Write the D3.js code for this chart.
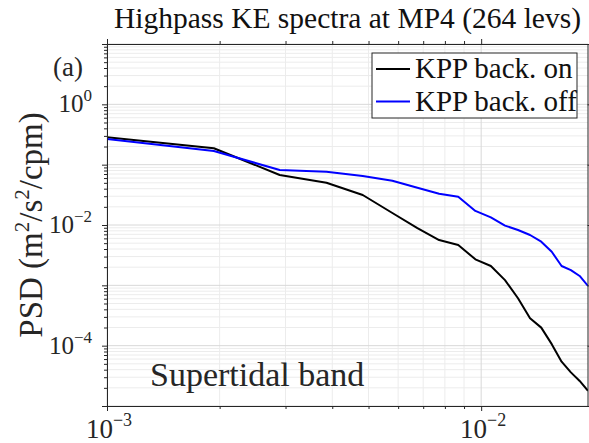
<!DOCTYPE html>
<html>
<head>
    <title>Highpass KE spectra</title>
    <script src="https://cdn.jsdelivr.net/npm/d3@7"></script>
</head>
<style>
body { margin: 0; background: white; }
text { font-family: "Liberation Serif", serif; fill: #262626; }
</style>
<body>
<script>

// frequency (cpm) and PSD values
var freq = [0.000965, 0.00193, 0.002895, 0.00386, 0.004825, 0.00579, 0.006755, 0.00772, 0.008685, 0.00965,
            0.010615, 0.01158, 0.012545, 0.01351, 0.014475, 0.01544, 0.016405, 0.01737, 0.018335, 0.0193];
var kppOn = [0.29, 0.187, 0.0675, 0.0502, 0.0314, 0.0158, 0.00885, 0.00564, 0.00466, 0.0027,
             0.00209, 0.00122, 0.00061, 0.000284, 0.000199, 0.000106, 0.0000542, 0.0000361, 0.000026, 0.0000179];
var kppOff = [0.274, 0.168, 0.0817, 0.0766, 0.0649, 0.0542, 0.0415, 0.033, 0.0294, 0.0171,
              0.0134, 0.00976, 0.00826, 0.00683, 0.00529, 0.0036, 0.00209, 0.00179, 0.00143, 0.000976];
var seriesNames = ["KPP back. on", "KPP back. off"];
var seriesColors = ["#000000", "#0000ff"];

var xMajor = [1e-3, 1e-2];
var xTickExp = ["\u22123", "\u22122"];
var yMajor = [1e-4, 1e-2, 1e0];
var yTickExp = ["\u22124", "\u22122", "0"];

var w = 589;
var h = 443;
// plot box (note: "top" is reserved on window, so use px* names)
var pxL = 107, pxR = 588, pxT = 44, pxB = 406;

var svg = d3.select("body").append("svg")
                .attr("width", w)
                .attr("height", h);

var x = d3.scaleLog().domain([1e-3, 0.0193]).range([pxL, pxR]);
var y = d3.scaleLog().domain([1e-5, 10]).range([pxB, pxT]);

// minor / major tick values
var xMinor = [], yMinor = [];
[1e-3, 1e-2].forEach(function(d) {
    for (var k = 2; k <= 9; k++) { if (d * k <= 0.0193) xMinor.push(d * k); }
});
[1e-5, 1e-4, 1e-3, 1e-2, 1e-1, 1e0].forEach(function(d) {
    for (var k = 2; k <= 9; k++) yMinor.push(d * k);
});
var yAllMajor = [1e-5, 1e-4, 1e-3, 1e-2, 1e-1, 1e0, 1e1];

// grid
var grid = svg.append("g");
grid.selectAll("line.xmin").data(xMinor).enter().append("line")
    .attr("x1", function(d) { return x(d); }).attr("x2", function(d) { return x(d); })
    .attr("y1", pxT).attr("y2", pxB)
    .attr("stroke", "#ececec").attr("stroke-width", 1);
grid.selectAll("line.ymin").data(yMinor).enter().append("line")
    .attr("y1", function(d) { return y(d); }).attr("y2", function(d) { return y(d); })
    .attr("x1", pxL).attr("x2", pxR)
    .attr("stroke", "#ececec").attr("stroke-width", 1);
grid.selectAll("line.xmaj").data(xMajor).enter().append("line")
    .attr("x1", function(d) { return x(d); }).attr("x2", function(d) { return x(d); })
    .attr("y1", pxT).attr("y2", pxB)
    .attr("stroke", "#d8d8d8").attr("stroke-width", 1);
grid.selectAll("line.ymaj").data(yAllMajor).enter().append("line")
    .attr("y1", function(d) { return y(d); }).attr("y2", function(d) { return y(d); })
    .attr("x1", pxL).attr("x2", pxR)
    .attr("stroke", "#d8d8d8").attr("stroke-width", 1);

// lines
svg.append("clipPath").attr("id", "clip").append("rect")
    .attr("x", pxL).attr("y", pxT).attr("width", pxR - pxL).attr("height", pxB - pxT);

var line = d3.line()
    .x(function(d) { return x(d[0]); })
    .y(function(d) { return y(d[1]); });

[kppOn, kppOff].forEach(function(vals, i) {
    svg.append("path")
        .datum(d3.zip(freq, vals))
        .attr("clip-path", "url(#clip)")
        .attr("fill", "none")
        .attr("stroke", seriesColors[i])
        .attr("stroke-width", 2)
        .attr("stroke-linejoin", "round")
        .attr("d", line);
});

// axes, ticks outward
function styleAxis(g) {
    g.selectAll("path").attr("stroke", "#262626");
    g.selectAll("line").attr("stroke", "#262626");
}
svg.append("g").attr("transform", "translate(0," + pxB + ")")
    .call(d3.axisBottom(x).tickValues(xMinor).tickSize(3).tickSizeOuter(0).tickFormat("")).call(styleAxis);
svg.append("g").attr("transform", "translate(0," + pxB + ")")
    .call(d3.axisBottom(x).tickValues(xMajor).tickSize(5).tickSizeOuter(0).tickFormat("")).call(styleAxis);
svg.append("g").attr("transform", "translate(0," + pxT + ")")
    .call(d3.axisTop(x).tickValues(xMinor).tickSize(3).tickSizeOuter(0).tickFormat("")).call(styleAxis);
svg.append("g").attr("transform", "translate(0," + pxT + ")")
    .call(d3.axisTop(x).tickValues(xMajor).tickSize(5).tickSizeOuter(0).tickFormat("")).call(styleAxis);
svg.append("g").attr("transform", "translate(" + pxL + ",0)")
    .call(d3.axisLeft(y).tickValues(yMinor).tickSize(3).tickSizeOuter(0).tickFormat("")).call(styleAxis);
svg.append("g").attr("transform", "translate(" + pxL + ",0)")
    .call(d3.axisLeft(y).tickValues(yAllMajor).tickSize(5).tickSizeOuter(0).tickFormat("")).call(styleAxis);
svg.append("g").attr("transform", "translate(" + (pxR - 0.5) + ",0)")
    .call(d3.axisRight(y).tickValues(yAllMajor).tickSize(5).tickSizeOuter(0).tickFormat("")).call(styleAxis);

// tick labels with superscript exponents
var xl = svg.selectAll("text.xt").data(xMajor).enter().append("text")
    .attr("class", "xt")
    .attr("x", function(d) { return x(d) + 2; })
    .attr("y", 438)
    .attr("text-anchor", "middle")
    .attr("font-size", "27px");
xl.append("tspan").text("10");
xl.append("tspan").attr("dy", -12).attr("font-size", "18px").text(function(d, i) { return xTickExp[i]; });

var yl = svg.selectAll("text.yt").data(yMajor).enter().append("text")
    .attr("class", "yt")
    .attr("x", 92)
    .attr("y", function(d) { return y(d) + 8; })
    .attr("text-anchor", "end")
    .attr("font-size", "25px");
yl.append("tspan").text("10");
yl.append("tspan").attr("dy", -11).attr("font-size", "17px").text(function(d, i) { return yTickExp[i]; });

// title and labels
svg.append("text")
    .attr("x", (pxL + pxR) / 2)
    .attr("y", 28)
    .attr("text-anchor", "middle")
    .attr("font-size", "29.5px")
    .style("fill", "#111")
    .text("Highpass KE spectra at MP4 (264 levs)");

svg.append("text")
    .attr("x", 53)
    .attr("y", 76)
    .attr("font-size", "27px")
    .text("(a)");

var yt = svg.append("text")
    .attr("transform", "translate(42,225) rotate(-90)")
    .attr("text-anchor", "middle")
    .attr("font-size", "33px");
yt.append("tspan").text("PSD (m");
yt.append("tspan").attr("dy", -13).attr("font-size", "21px").text("2");
yt.append("tspan").attr("dy", 13).text("/s");
yt.append("tspan").attr("dy", -13).attr("font-size", "21px").text("2");
yt.append("tspan").attr("dy", 13).text("/cpm)");

svg.append("text")
    .attr("x", 150)
    .attr("y", 386)
    .attr("font-size", "34px")
    .text("Supertidal band");

// legend
var legend = svg.append("g");
legend.append("rect")
    .attr("x", 372).attr("y", 53).attr("width", 205).attr("height", 65)
    .attr("fill", "white").attr("stroke", "#262626").attr("stroke-width", 1);
seriesNames.forEach(function(name, i) {
    var ly = 69 + i * 32.5;
    legend.append("line")
        .attr("x1", 376).attr("x2", 410).attr("y1", ly).attr("y2", ly)
        .attr("stroke", seriesColors[i]).attr("stroke-width", 2);
    legend.append("text")
        .attr("x", 415).attr("y", ly + 9)
        .attr("font-size", "29px")
        .style("fill", "#111")
        .text(name);
});

</script>
</body>
</html>
